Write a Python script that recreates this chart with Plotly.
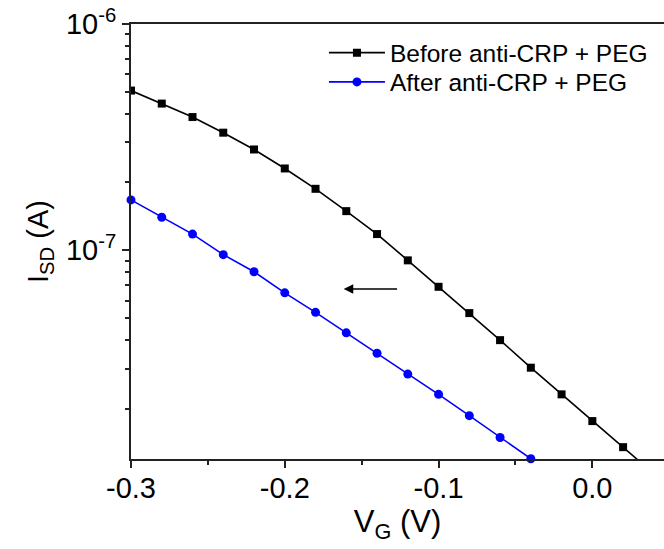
import plotly.graph_objects as go

vg_before = [-0.30, -0.28, -0.26, -0.24, -0.22, -0.20, -0.18, -0.16, -0.14, -0.12,
             -0.10, -0.08, -0.06, -0.04, -0.02, 0.00, 0.02, 0.04]
isd_before = [5.08e-7, 4.45e-7, 3.88e-7, 3.31e-7, 2.79e-7, 2.30e-7, 1.87e-7, 1.49e-7,
              1.18e-7, 9.03e-8, 6.90e-8, 5.28e-8, 4.01e-8, 3.03e-8, 2.31e-8, 1.76e-8,
              1.35e-8, 1.03e-8]

vg_after = [-0.30, -0.28, -0.26, -0.24, -0.22, -0.20, -0.18, -0.16, -0.14, -0.12,
            -0.10, -0.08, -0.06, -0.04]
isd_after = [1.67e-7, 1.40e-7, 1.18e-7, 9.57e-8, 8.04e-8, 6.49e-8, 5.32e-8, 4.32e-8,
             3.51e-8, 2.84e-8, 2.31e-8, 1.86e-8, 1.49e-8, 1.20e-8]

x_ticks = [-0.3, -0.2, -0.1, 0.0]
x_ticktext = ["-0.3", "-0.2", "-0.1", "0.0"]
y_ticks = [1e-7, 1e-6]
y_ticktext = ["10<sup>-7</sup>", "10<sup>-6</sup>"]
y_minor = [k * 1e-8 for k in range(2, 10)] + [k * 1e-7 for k in range(2, 10)]
x_minor = [-0.25, -0.15, -0.05]

FONT = "Arial, Liberation Sans, sans-serif"

fig = go.Figure()
fig.add_trace(go.Scatter(
    x=vg_before, y=isd_before, mode="lines+markers",
    name="Before anti-CRP + PEG", legend="legend",
    line=dict(color="black", width=1.6),
    marker=dict(symbol="square", size=8, color="black"),
))
fig.add_trace(go.Scatter(
    x=vg_after, y=isd_after, mode="lines+markers",
    name="After anti-CRP + PEG", legend="legend2",
    line=dict(color="#0000ff", width=1.6),
    marker=dict(symbol="circle", size=9, color="#0000ff"),
    cliponaxis=False,
))

fig.add_annotation(
    x=-0.1617, y=-7.171, xref="x", yref="y",
    ax=-0.126, ay=0, axref="x",
    text="", showarrow=True, arrowhead=2, arrowsize=1.2,
    arrowwidth=1.6, arrowcolor="black",
)

legend_common = dict(
    xanchor="left", yanchor="top",
    font=dict(size=24.5, family=FONT, color="black"),
    bgcolor="rgba(0,0,0,0)", itemwidth=56,
)

fig.update_layout(
    width=664, height=549,
    margin=dict(l=131, r=0, t=24, b=90),
    paper_bgcolor="white", plot_bgcolor="white",
    font=dict(family=FONT, color="black"),
    showlegend=True,
    legend=dict(x=0.362, y=0.9857, **legend_common),
    legend2=dict(x=0.362, y=0.9184, **legend_common),
    xaxis=dict(
        range=[-0.3, 0.0466],
        tickmode="array", tickvals=x_ticks, ticktext=x_ticktext,
        ticks="outside", ticklen=7, tickwidth=1.5, tickcolor="#222",
        ticklabelstandoff=-5,
        showline=True, linecolor="#222", linewidth=2, mirror=True,
        showgrid=False, zeroline=False,
        tickfont=dict(size=29, family=FONT, color="black"),
        minor=dict(tickmode="array", tickvals=x_minor, ticks="outside",
                   ticklen=4, tickwidth=1.5, tickcolor="#222", showgrid=False),
        title=dict(text="V<sub>G</sub> (V)", font=dict(size=31, family=FONT, color="black"),
                   standoff=8),
    ),
    yaxis=dict(
        type="log", range=[-7.922, -6.0],
        tickmode="array", tickvals=y_ticks, ticktext=y_ticktext,
        ticks="outside", ticklen=7, tickwidth=1.5, tickcolor="#222",
        showline=True, linecolor="#222", linewidth=2, mirror=False,
        showgrid=False, zeroline=False,
        tickfont=dict(size=29, family=FONT, color="black"),
        minor=dict(tickmode="array", tickvals=y_minor, ticks="outside",
                   ticklen=4, tickwidth=1.5, tickcolor="#222", showgrid=False),
        title=dict(text="I<sub>SD</sub> (A)", font=dict(size=29, family=FONT, color="black"),
                   standoff=9),
    ),
)

fig.write_html("out.html")
